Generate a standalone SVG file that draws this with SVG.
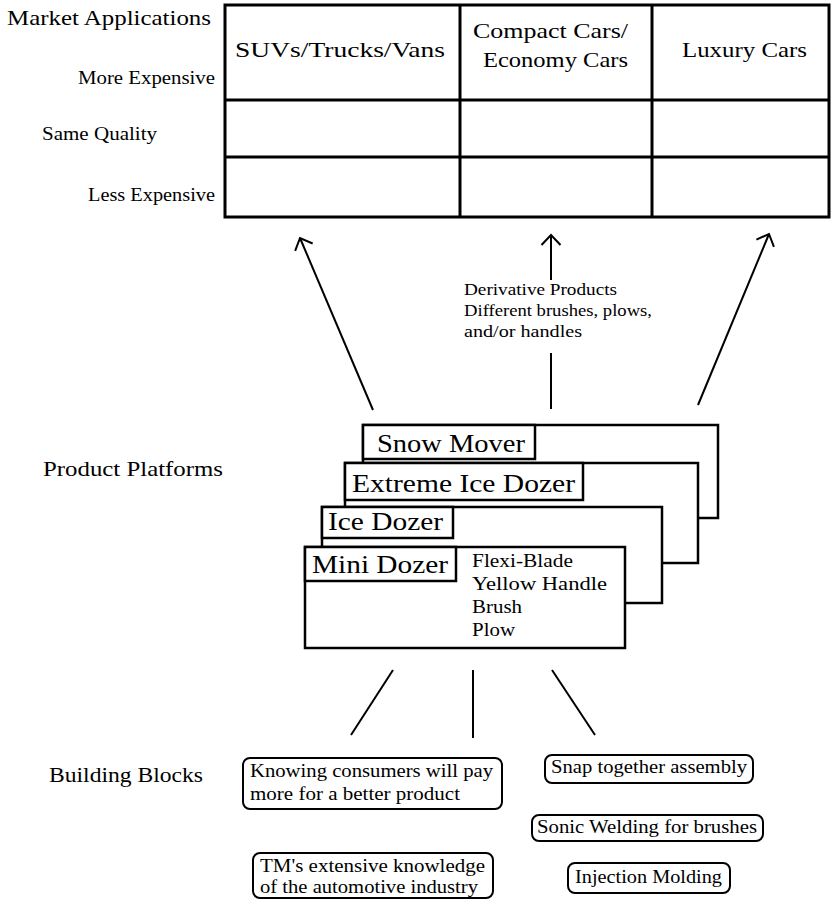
<svg xmlns="http://www.w3.org/2000/svg" width="831" height="901" viewBox="0 0 831 901">
  <style>
    text { font-family: "Liberation Serif", "Times New Roman", serif; fill: #000; }
    .grid { fill: none; stroke: #000; stroke-width: 3; }
    .card { fill: #fff; stroke: #000; stroke-width: 2.5; }
    .tab { fill: #fff; stroke: #000; stroke-width: 2.5; }
    .block { fill: #fff; stroke: #000; stroke-width: 2; }
    .conn { fill: none; stroke: #000; stroke-width: 2; }
    .hdr { font-size: 22px; }
    .row { font-size: 18px; }
    .sec { font-size: 21px; }
    .name { font-size: 25px; }
    .item { font-size: 18px; }
    .note { font-size: 16px; }
    .bb { font-size: 18px; }
  </style>
  <defs>
    <marker id="head" markerUnits="userSpaceOnUse" viewBox="-13 -12 26 24" markerWidth="26" markerHeight="24" refX="0" refY="0" orient="auto">
      <path d="M-10,-9.5 L0,0 L-10,9.5" fill="none" stroke="#000" stroke-width="2"/>
    </marker>
  </defs>

  <rect width="831" height="901" fill="#fff"/>

  <!-- section labels -->
  <text class="sec" x="7" y="25" textLength="204" lengthAdjust="spacingAndGlyphs">Market Applications</text>
  <text class="sec" x="43" y="476" textLength="180" lengthAdjust="spacingAndGlyphs">Product Platforms</text>
  <text class="sec" x="49" y="782" textLength="154" lengthAdjust="spacingAndGlyphs">Building Blocks</text>

  <!-- market matrix -->
  <g id="market-table">
    <rect class="grid" x="225" y="5" width="604" height="212"/>
    <line class="grid" x1="225" y1="100" x2="829" y2="100"/>
    <line class="grid" x1="225" y1="157" x2="829" y2="157"/>
    <line class="grid" x1="460" y1="5" x2="460" y2="217"/>
    <line class="grid" x1="652" y1="5" x2="652" y2="217"/>
    <text class="hdr" x="235" y="57" textLength="210" lengthAdjust="spacingAndGlyphs">SUVs/Trucks/Vans</text>
    <text class="hdr" x="473" y="38" textLength="155" lengthAdjust="spacingAndGlyphs">Compact Cars/</text>
    <text class="hdr" x="483" y="67" textLength="145" lengthAdjust="spacingAndGlyphs">Economy Cars</text>
    <text class="hdr" x="682" y="57" textLength="125" lengthAdjust="spacingAndGlyphs">Luxury Cars</text>
    <text class="row" x="78" y="84" textLength="137" lengthAdjust="spacingAndGlyphs">More Expensive</text>
    <text class="row" x="42" y="140" textLength="115" lengthAdjust="spacingAndGlyphs">Same Quality</text>
    <text class="row" x="88" y="201" textLength="127" lengthAdjust="spacingAndGlyphs">Less Expensive</text>
  </g>

  <!-- platform cards, back to front -->
  <g id="snow-mover">
    <rect class="card" x="363" y="425" width="355" height="93"/>
    <rect class="tab" x="363" y="425" width="172" height="34"/>
    <text class="name" x="377" y="452" textLength="148" lengthAdjust="spacingAndGlyphs">Snow Mover</text>
  </g>
  <g id="extreme-ice-dozer">
    <rect class="card" x="345" y="463" width="353" height="100"/>
    <rect class="tab" x="345" y="463" width="238" height="37"/>
    <text class="name" x="352" y="492" textLength="223" lengthAdjust="spacingAndGlyphs">Extreme Ice Dozer</text>
  </g>
  <g id="ice-dozer">
    <rect class="card" x="322" y="507" width="340" height="96"/>
    <rect class="tab" x="322" y="507" width="131" height="31"/>
    <text class="name" x="328" y="530" textLength="115" lengthAdjust="spacingAndGlyphs">Ice Dozer</text>
  </g>
  <g id="mini-dozer">
    <rect class="card" x="305" y="547" width="320" height="101"/>
    <rect class="tab" x="305" y="547" width="151" height="34"/>
    <text class="name" x="312" y="573" textLength="136" lengthAdjust="spacingAndGlyphs">Mini Dozer</text>
    <text class="item" x="472" y="567" textLength="101" lengthAdjust="spacingAndGlyphs">Flexi-Blade</text>
    <text class="item" x="472" y="590" textLength="135" lengthAdjust="spacingAndGlyphs">Yellow Handle</text>
    <text class="item" x="472" y="613" textLength="50" lengthAdjust="spacingAndGlyphs">Brush</text>
    <text class="item" x="472" y="636" textLength="43" lengthAdjust="spacingAndGlyphs">Plow</text>
  </g>

  <!-- building blocks -->
  <g id="block-consumers">
    <rect class="block" x="243" y="758" width="259" height="51" rx="7"/>
    <text class="bb" x="250" y="777" textLength="243" lengthAdjust="spacingAndGlyphs">Knowing consumers will pay</text>
    <text class="bb" x="250" y="800" textLength="210" lengthAdjust="spacingAndGlyphs">more for a better product</text>
  </g>
  <g id="block-automotive">
    <rect class="block" x="253" y="853" width="240" height="45" rx="7"/>
    <text class="bb" x="260" y="872" textLength="225" lengthAdjust="spacingAndGlyphs">TM's extensive knowledge</text>
    <text class="bb" x="260" y="893" textLength="218" lengthAdjust="spacingAndGlyphs">of the automotive industry</text>
  </g>
  <g id="block-snap">
    <rect class="block" x="545" y="755" width="208" height="28" rx="7"/>
    <text class="bb" x="551" y="773" textLength="196" lengthAdjust="spacingAndGlyphs">Snap together assembly</text>
  </g>
  <g id="block-sonic">
    <rect class="block" x="532" y="815" width="231" height="26" rx="7"/>
    <text class="bb" x="537" y="833" textLength="220" lengthAdjust="spacingAndGlyphs">Sonic Welding for brushes</text>
  </g>
  <g id="block-injection">
    <rect class="block" x="568" y="863" width="162" height="30" rx="7"/>
    <text class="bb" x="575" y="883" textLength="147" lengthAdjust="spacingAndGlyphs">Injection Molding</text>
  </g>

  <!-- connectors -->
  <g id="connectors">
    <line class="conn" x1="373" y1="410" x2="300" y2="238" marker-end="url(#head)"/>
    <line class="conn" x1="551" y1="280" x2="551" y2="235" marker-end="url(#head)"/>
    <line class="conn" x1="551" y1="353" x2="551" y2="409"/>
    <line class="conn" x1="698" y1="405" x2="769" y2="234" marker-end="url(#head)"/>
    <text class="note" x="464" y="295" textLength="153" lengthAdjust="spacingAndGlyphs">Derivative Products</text>
    <text class="note" x="464" y="316" textLength="188" lengthAdjust="spacingAndGlyphs">Different brushes, plows,</text>
    <text class="note" x="464" y="337" textLength="118" lengthAdjust="spacingAndGlyphs">and/or handles</text>
    <line class="conn" x1="393" y1="670" x2="351" y2="735"/>
    <line class="conn" x1="473" y1="670" x2="473" y2="738"/>
    <line class="conn" x1="552" y1="670" x2="595" y2="735"/>
  </g>
</svg>
